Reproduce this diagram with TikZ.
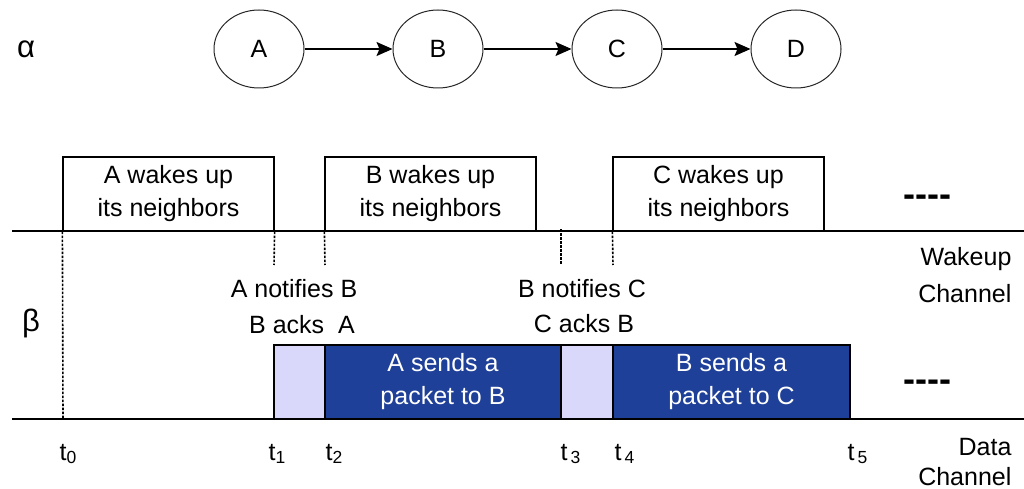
\documentclass[tikz,border=0pt]{standalone}
\usepackage{fontspec}
\setmainfont{Liberation Sans}
\usetikzlibrary{shapes.geometric,arrows.meta}
\definecolor{pktblue}{RGB}{31,64,152}
\definecolor{ackviolet}{RGB}{218,216,250}
\tikzset{
  hop/.style={draw=black!85, ellipse, line width=1pt, minimum width=90pt, minimum height=78pt, inner sep=0pt, font=\fontsize{25}{28}\selectfont},
  wakebox/.style={draw, minimum width=211pt, minimum height=74pt, inner sep=0pt, align=center, font=\fontsize{25}{33}\selectfont},
  slot/.style={draw, minimum height=74pt, inner sep=0pt, align=center, font=\fontsize{25}{33}\selectfont},
  lbl/.style={inner sep=0pt, font=\fontsize{25}{28}\selectfont},
  greek/.style={inner sep=0pt, font=\fontsize{31}{34}\selectfont},
  dots/.style={inner sep=0pt, font=\fontsize{36}{40}\selectfont\bfseries},
  tmark/.style={line width=1.6pt, dash pattern=on 2.5pt off 1.5pt}
}
\begin{document}
\begin{tikzpicture}[x=1pt, y=-1pt, line width=1.2pt]
            \useasboundingbox (0,0) rectangle (1024,489);
            % alpha: the route
            \node[greek, anchor=base] (alpha) at (26,58) {α};
            \node[hop] (A) at (259,49) {A};
            \node[hop] (B) at (438,49) {B};
            \node[hop] (C) at (617,49) {C};
            \node[hop] (D) at (796,49) {D};
            \foreach \u/\v in {A/B, B/C, C/D}
                \draw[-{Stealth[length=16pt,width=14pt,inset=3pt]}, line width=1.3pt] (\u) -- (\v);
            % beta: the two channels
            \node[greek, anchor=base] (beta) at (31,331) {β};
            \draw (12,231) -- (1024,231);
            \draw (12,419) -- (1024,419);
            \node[wakebox] (wA) at (168.5,194) {A wakes up\\its neighbors};
            \node[wakebox] (wB) at (430.5,194) {B wakes up\\its neighbors};
            \node[wakebox] (wC) at (718.5,194) {C wakes up\\its neighbors};
            \node[dots] (moreW) at (927,201) {{-}{-}{-}{-}};
            \node[slot, fill=ackviolet, minimum width=51pt] (ackA) at (299.5,382) {};
            \node[slot, fill=pktblue, text=white, minimum width=236pt] (pktA) at (443,382) {A sends a\\packet to B};
            \node[slot, fill=ackviolet, minimum width=52pt] (ackB) at (587,382) {};
            \node[slot, fill=pktblue, text=white, minimum width=237pt] (pktB) at (731.5,382) {B sends a\\packet to C};
            \node[dots] (moreD) at (927,386) {{-}{-}{-}{-}};
            % time marks
            \draw[tmark] (wA.south west) -- (63,419);
            \draw[tmark] (wA.south east) -- (274,265);
            \draw[tmark] (wB.south west) -- (325,265);
            \draw[tmark] (561,229) -- (561,265);
            \draw[tmark] (wC.south west) -- (613,265);
            \node[lbl, anchor=base] (nB) at (294,297) {A notifies B};
            \node[lbl, anchor=base] (aA) at (302,333) {B acks\ \ A};
            \node[lbl, anchor=base] (nC) at (582,297) {B notifies C};
            \node[lbl, anchor=base] (aB) at (584,332) {C acks B};
            \node[lbl, anchor=base east] (wake) at (1012,265) {Wakeup};
            \node[lbl, anchor=base east] (wakech) at (1012,302) {Channel};
            \node[lbl, anchor=base east] (data) at (1012,455) {Data};
            \node[lbl, anchor=base east] (datach) at (1012,485) {Channel};
            \node[lbl, anchor=base west] (t0) at (59,460) {t\textsubscript{0}};
            \node[lbl, anchor=base west] (t1) at (268,460) {t\textsubscript{1}};
            \node[lbl, anchor=base west] (t2) at (325,460) {t\textsubscript{2}};
            \node[lbl, anchor=base west] (t3) at (560,460) {t\kern3pt\textsubscript{3}};
            \node[lbl, anchor=base west] (t4) at (614,460) {t\kern3pt\textsubscript{4}};
            \node[lbl, anchor=base west] (t5) at (847,460) {t\kern3pt\textsubscript{5}};
\end{tikzpicture}
\end{document}
